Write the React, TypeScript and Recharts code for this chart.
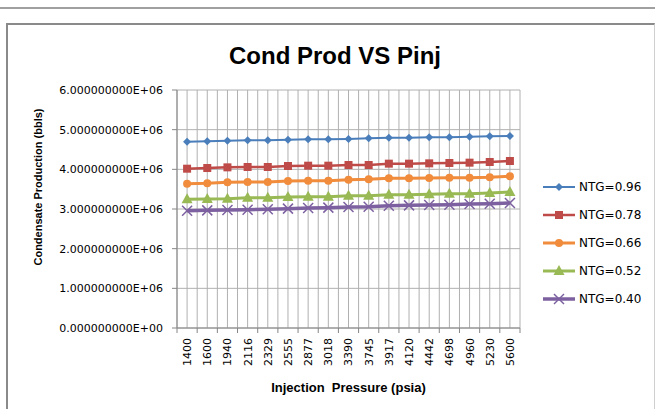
import React from "react";
import { CartesianGrid, Line, LineChart, XAxis, YAxis } from "recharts";

// injection pressure categories (psia)
const pressures = [
  "1400", "1600", "1940", "2116", "2329", "2555", "2877", "3018", "3390",
  "3745", "3917", "4120", "4442", "4698", "4960", "5230", "5600",
];

// condensate production (bbls) per NTG case
const ntg096 = [
  4697000, 4706000, 4723000, 4731000, 4731000, 4748000, 4756000, 4756000, 4765000,
  4781000, 4798000, 4798000, 4807000, 4807000, 4823000, 4832000, 4840000,
];
const ntg078 = [
  4016000, 4033000, 4050000, 4059000, 4059000, 4084000, 4092000, 4092000, 4109000,
  4109000, 4143000, 4143000, 4151000, 4160000, 4168000, 4185000, 4210000,
];
const ntg066 = [
  3638000, 3647000, 3672000, 3681000, 3681000, 3706000, 3714000, 3714000, 3740000,
  3748000, 3773000, 3773000, 3782000, 3790000, 3790000, 3798000, 3824000,
];
const ntg052 = [
  3243000, 3252000, 3260000, 3285000, 3285000, 3302000, 3311000, 3311000, 3336000,
  3336000, 3361000, 3361000, 3370000, 3387000, 3387000, 3403000, 3429000,
];
const ntg040 = [
  2958000, 2966000, 2975000, 2983000, 2992000, 3009000, 3025000, 3034000, 3050000,
  3059000, 3084000, 3092000, 3101000, 3109000, 3126000, 3134000, 3151000,
];

const yTicks = [0, 1000000, 2000000, 3000000, 4000000, 5000000, 6000000];

const data = pressures.map((p, i) => ({
  p,
  a: ntg096[i],
  b: ntg078[i],
  c: ntg066[i],
  d: ntg052[i],
  e: ntg040[i],
}));

const W = 655;
const H = 409;
const PLOT_LEFT = 177;
const PLOT_RIGHT = 520;
const PLOT_TOP = 90;
const PLOT_BOTTOM = 328;
const PLOT_W = PLOT_RIGHT - PLOT_LEFT;
const X_AXIS_H = 50;
const BAND = PLOT_W / pressures.length;

const TICK_FONT = "'DejaVu Sans', sans-serif";
const BOLD_FONT = "'Liberation Sans', Arial, sans-serif";
const AXIS = "#868686";
const GRID = "#b0b0b0";

function sci(v: number) {
  if (v === 0) return "0.000000000E+00";
  const exp = Math.floor(Math.log10(v));
  const mant = v / Math.pow(10, exp);
  return `${mant.toFixed(9)}E+${String(exp).padStart(2, "0")}`;
}

type Marker = "diamond" | "square" | "circle" | "triangle" | "cross";

function MarkerShape({ kind, cx, cy, color }: { kind: Marker; cx: number; cy: number; color: string }) {
  if (kind === "diamond")
    return <polygon points={`${cx},${cy - 4} ${cx + 4},${cy} ${cx},${cy + 4} ${cx - 4},${cy}`} fill={color} />;
  if (kind === "square") return <rect x={cx - 4} y={cy - 4} width={8} height={8} fill={color} />;
  if (kind === "circle") return <circle cx={cx} cy={cy} r={4} fill={color} />;
  if (kind === "triangle")
    return <polygon points={`${cx},${cy - 6} ${cx + 5.5},${cy + 4} ${cx - 5.5},${cy + 4}`} fill={color} />;
  return (
    <g stroke={color} strokeWidth={1.5}>
      <line x1={cx - 5} y1={cy - 5} x2={cx + 5} y2={cy + 5} />
      <line x1={cx - 5} y1={cy + 5} x2={cx + 5} y2={cy - 5} />
    </g>
  );
}

const series: { key: string; name: string; color: string; width: number; marker: Marker }[] = [
  { key: "a", name: "NTG=0.96", color: "#4a7ebb", width: 2, marker: "diamond" },
  { key: "b", name: "NTG=0.78", color: "#be4b48", width: 2.5, marker: "square" },
  { key: "c", name: "NTG=0.66", color: "#f08c3c", width: 3, marker: "circle" },
  { key: "d", name: "NTG=0.52", color: "#98b954", width: 3, marker: "triangle" },
  { key: "e", name: "NTG=0.40", color: "#7d60a0", width: 3.5, marker: "cross" },
];

function PressureTick(props: any) {
  const { x, y, payload, index } = props;
  const last = index === pressures.length - 1;
  // tick marks sit on category boundaries, like Excel
  return (
    <g transform={`translate(${x},${y})`}>
      <line x1={-BAND / 2} y1={-10} x2={-BAND / 2} y2={-5} stroke={AXIS} />
      {last && <line x1={BAND / 2} y1={-10} x2={BAND / 2} y2={-5} stroke={AXIS} />}
      <text
        transform="rotate(-90)"
        textAnchor="end"
        dy="0.36em"
        fontSize={11}
        fontFamily={TICK_FONT}
        fill="#000"
      >
        {payload.value}
      </text>
    </g>
  );
}

export default function App() {
  return (
    <div style={{ position: "absolute", left: 0, top: 0, width: W, height: H, background: "#fff", overflow: "hidden" }}>
      <div style={{ position: "absolute", left: 0, top: 7, width: W, height: 2, background: "#a0a0a0" }} />
      <div
        style={{
          position: "absolute",
          left: 6,
          top: 23,
          width: 646,
          height: 420,
          borderTop: "2px solid #8a8a8a",
          borderLeft: "2px solid #8a8a8a",
          borderRight: "1px solid #cfcfcf",
        }}
      />

      <div
        style={{
          position: "absolute",
          left: 0,
          top: 44,
          width: 670,
          textAlign: "center",
          fontFamily: BOLD_FONT,
          fontWeight: "bold",
          fontSize: 24,
          lineHeight: "24px",
          color: "#000",
        }}
      >
        Cond Prod VS Pinj
      </div>

      <div style={{ position: "absolute", left: 0, top: 0 }}>
        <LineChart
          width={W}
          height={H}
          data={data}
          margin={{ top: PLOT_TOP, right: W - PLOT_RIGHT, bottom: H - PLOT_BOTTOM - X_AXIS_H, left: 0 }}
        >
          <CartesianGrid
            stroke={GRID}
            strokeWidth={1}
            verticalCoordinatesGenerator={({ offset }: any) => {
              const left = offset?.left ?? PLOT_LEFT;
              const w = offset?.width ?? PLOT_W;
              const n = pressures.length * 2;
              return Array.from({ length: n + 1 }, (_, i) => left + (i * w) / n);
            }}
          />
          <XAxis
            dataKey="p"
            scale="band"
            interval={0}
            height={X_AXIS_H}
            tickSize={5}
            tickMargin={5}
            tickLine={false}
            axisLine={{ stroke: AXIS }}
            tick={<PressureTick />}
          />
          <YAxis
            width={PLOT_LEFT}
            domain={[0, 6000000]}
            ticks={yTicks}
            interval={0}
            tickFormatter={sci}
            tickSize={5}
            tickMargin={9}
            axisLine={{ stroke: AXIS }}
            tickLine={{ stroke: AXIS }}
            tick={{ fontSize: 11, fontFamily: TICK_FONT, fill: "#000" }}
          />
          {series.map((s) => (
            <Line
              key={s.key}
              type="linear"
              dataKey={s.key}
              name={s.name}
              stroke={s.color}
              strokeWidth={s.width}
              isAnimationActive={false}
              dot={(p: any) => (
                <MarkerShape key={`${s.key}-${p.index}`} kind={s.marker} cx={p.cx} cy={p.cy} color={s.color} />
              )}
              activeDot={false}
            />
          ))}
        </LineChart>
      </div>

      <div
        style={{
          position: "absolute",
          left: 38 - 150,
          top: 187 - 8,
          width: 300,
          height: 16,
          lineHeight: "16px",
          textAlign: "center",
          transform: "rotate(-90deg)",
          fontFamily: BOLD_FONT,
          fontWeight: "bold",
          fontSize: 11,
          color: "#000",
          whiteSpace: "nowrap",
        }}
      >
        Condensate Production (bbls)
      </div>

      <div
        style={{
          position: "absolute",
          left: (PLOT_LEFT + PLOT_RIGHT) / 2 - 150,
          top: 380.5,
          width: 300,
          textAlign: "center",
          fontFamily: BOLD_FONT,
          fontWeight: "bold",
          fontSize: 13,
          lineHeight: "13px",
          color: "#000",
          whiteSpace: "pre",
        }}
      >
        {"Injection  Pressure (psia)"}
      </div>

      <div style={{ position: "absolute", left: 543, top: 173 }}>
        {series.map((s) => (
          <div key={s.key} style={{ display: "flex", alignItems: "center", height: 28 }}>
            <svg width={34} height={14} style={{ display: "block" }}>
              <line x1={0} y1={7} x2={32} y2={7} stroke={s.color} strokeWidth={s.width} />
              <MarkerShape kind={s.marker} cx={16} cy={7} color={s.color} />
            </svg>
            <span style={{ marginLeft: 2, fontFamily: TICK_FONT, fontSize: 12, color: "#000" }}>{s.name}</span>
          </div>
        ))}
      </div>
    </div>
  );
}
